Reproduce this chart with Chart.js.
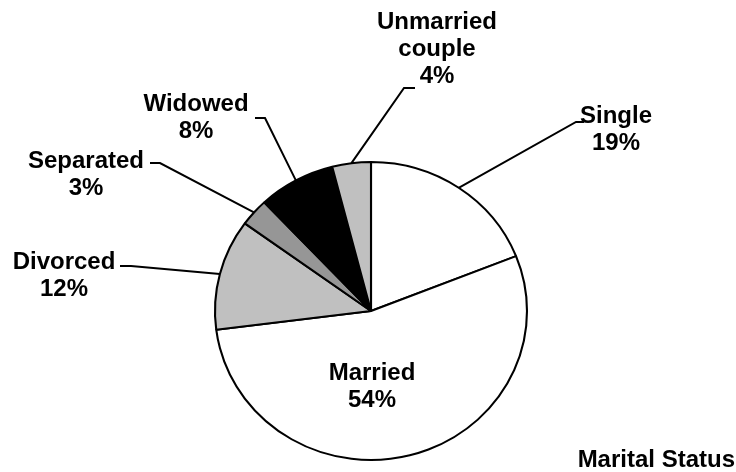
<!DOCTYPE html>
<html>
<head>
<meta charset="utf-8">
<script src="https://cdn.jsdelivr.net/npm/chart.js@4"></script>
<style>
  html, body { margin: 0; padding: 0; background: #ffffff; }
  #wrap { width: 736px; height: 472px; position: relative; }
</style>
</head>
<body>
<div id="wrap"><canvas id="maritalChart" width="736" height="472"></canvas></div>
<script>
// marital status shares, clockwise from 12 o'clock
const categories = ['Single', 'Married', 'Divorced', 'Separated', 'Widowed', 'Unmarried couple'];
const shares = [19, 54, 12, 3, 8, 4];
const chartTitle = 'Marital Status';

const sliceColors = ['#ffffff', '#ffffff', '#c0c0c0', '#969696', '#000000', '#c0c0c0'];
const labelFont = 'bold 24px "Liberation Sans", Arial, sans-serif';
const lineGap = 27;
const stretchX = 156 / 149; // the pie in the picture is a bit wider than tall

// where each label sits, plus the elbow of its leader line
const labelLayout = [
    { x: 616, y: 116, elbow: [576, 122], end: [584, 122] },
    { x: 372, y: 373, inside: true },
    { x: 64, y: 262, elbow: [131, 266], end: [120, 266] },
    { x: 86, y: 161, elbow: [160, 163], end: [150, 163] },
    { x: 196, y: 104, elbow: [265, 118], end: [255, 118] },
    { x: 437, y: 22, elbow: [404, 88], end: [415, 88] }
];

function labelLines(i) {
    const name = categories[i] === 'Unmarried couple' ? ['Unmarried', 'couple'] : [categories[i]];
    return name.concat([shares[i] + '%']);
}

const ellipsePlugin = {
    id: 'ellipse',
    beforeDatasetsDraw(chart) {
        const arc = chart.getDatasetMeta(0).data[0];
        const ctx = chart.ctx;
        ctx.save();
        ctx.translate(arc.x, arc.y);
        ctx.scale(stretchX, 1);
        ctx.translate(-arc.x, -arc.y);
    },
    afterDatasetsDraw(chart) {
        chart.ctx.restore();
    }
};

const labelPlugin = {
    id: 'sliceLabels',
    afterDraw(chart) {
        const ctx = chart.ctx;
        const arcs = chart.getDatasetMeta(0).data;
        ctx.save();
        ctx.font = labelFont;
        ctx.fillStyle = '#000000';
        ctx.textAlign = 'center';
        ctx.textBaseline = 'middle';
        ctx.strokeStyle = '#000000';
        ctx.lineWidth = 2;

        arcs.forEach((arc, i) => {
            const lay = labelLayout[i];
            if (!lay.inside) {
                const mid = (arc.startAngle + arc.endAngle) / 2;
                const ax = arc.x + arc.outerRadius * stretchX * Math.cos(mid);
                const ay = arc.y + arc.outerRadius * Math.sin(mid);
                ctx.beginPath();
                ctx.moveTo(ax, ay);
                ctx.lineTo(lay.elbow[0], lay.elbow[1]);
                ctx.lineTo(lay.end[0], lay.end[1]);
                ctx.stroke();
            }
            labelLines(i).forEach((txt, k) => {
                ctx.fillText(txt, lay.x, lay.y + k * lineGap);
            });
        });

        ctx.textAlign = 'right';
        ctx.fillText(chartTitle, 735, 460);
        ctx.restore();
    }
};

new Chart(document.getElementById('maritalChart'), {
    type: 'pie',
    data: {
        labels: categories,
        datasets: [{
            data: shares,
            backgroundColor: sliceColors,
            borderColor: '#000000',
            borderWidth: 2
        }]
    },
    options: {
        responsive: false,
        animation: false,
        events: [],
        radius: 149,
        layout: { padding: { left: 6, right: 0, top: 150, bottom: 0 } },
        plugins: {
            legend: { display: false },
            tooltip: { enabled: false }
        }
    },
    plugins: [ellipsePlugin, labelPlugin]
});
</script>
</body>
</html>
